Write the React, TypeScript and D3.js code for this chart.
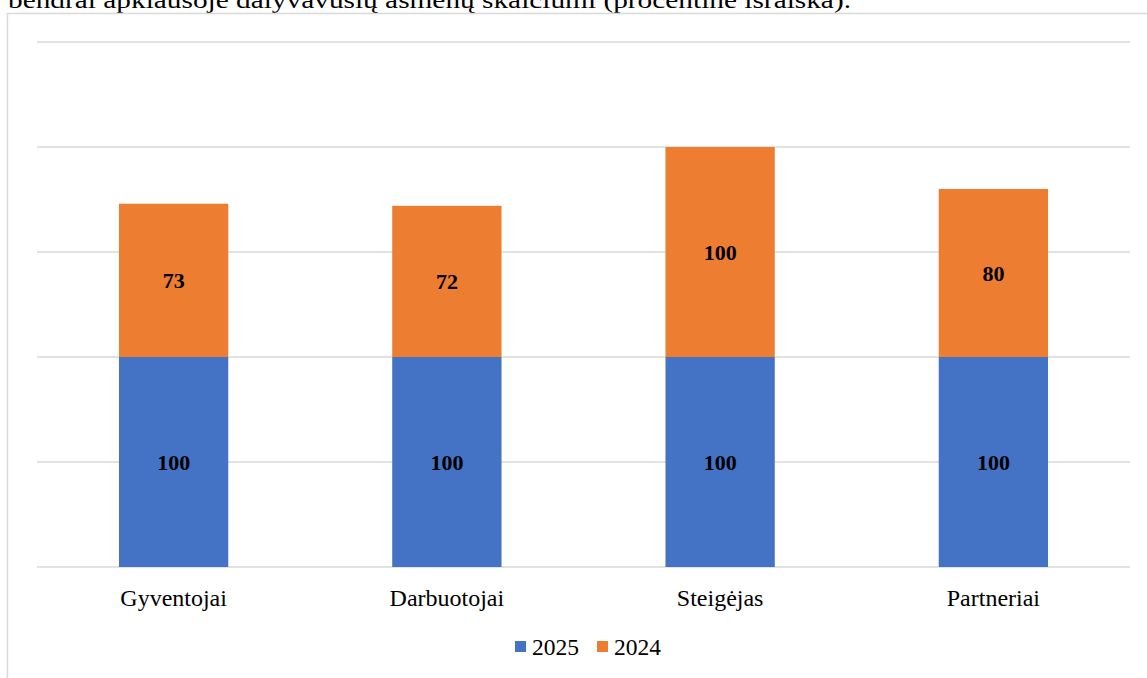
import React from "react";
import * as d3 from "d3";

const categories = ["Gyventojai", "Darbuotojai", "Steigėjas", "Partneriai"];
const series2025 = [100, 100, 100, 100];
const series2024 = [73, 72, 100, 80];
const seriesNames = ["2025", "2024"];
const colors = ["#4472C4", "#ED7D31"];
const yTicks = [0, 50, 100, 150, 200, 250];
const title = "bendrai apklausoje dalyvavusių asmenų skaičiumi (procentinė išraiška).";

const W = 1147;
const H = 678;
const left = 37;
const right = 1130;
const top = 42;
const bottom = 567;

export default function App() {
  const x = d3.scaleBand<string>().domain(categories).range([left, right]).paddingInner(0.6).paddingOuter(0.3);
  const y = d3.scaleLinear().domain([0, 250]).range([bottom, top]);
  const rows = categories.map((c, i) => ({ cat: c, s2025: series2025[i], s2024: series2024[i] }));
  const stack = d3.stack<any>().keys(["s2025", "s2024"])(rows);
  const font = "'Liberation Serif', 'Times New Roman', serif";

  return (
    <svg width={W} height={H} style={{ position: "absolute", left: 0, top: 0, background: "#fff" }} fontFamily={font}>
      <text x={8} y={8} fontSize={24} fill="#000" textLength={843} lengthAdjust="spacingAndGlyphs">{title}</text>
      <rect x={7.5} y={13.5} width={W + 20} height={H + 20} fill="none" stroke="#d9d9d9" strokeWidth={1.5} />
      {yTicks.map((t) => (
        <line key={t} x1={left} x2={right} y1={y(t)} y2={y(t)} stroke="#d9d9d9" strokeWidth={1.5} />
      ))}
      {stack.map((layer, li) => (
        <g key={li}>
          {layer.map((d, i) => (
            <g key={i}>
              <rect x={x(categories[i])} y={y(d[1])} width={x.bandwidth()} height={y(d[0]) - y(d[1])} fill={colors[li]} />
              <text x={(x(categories[i]) as number) + x.bandwidth() / 2} y={(y(d[0]) + y(d[1])) / 2 + 8} textAnchor="middle" fontSize={22} fontWeight="bold" fill="#000">
                {d[1] - d[0]}
              </text>
            </g>
          ))}
        </g>
      ))}
      {categories.map((c) => (
        <text key={c} x={(x(c) as number) + x.bandwidth() / 2} y={606} textAnchor="middle" fontSize={24} fill="#000">{c}</text>
      ))}
      {seriesNames.map((s, i) => (
        <g key={s} transform={`translate(${515 + i * 82},0)`}>
          <rect x={0} y={641} width={11} height={11} fill={colors[i]} />
          <text x={17} y={655} fontSize={23.5} fill="#000">{s}</text>
        </g>
      ))}
    </svg>
  );
}
